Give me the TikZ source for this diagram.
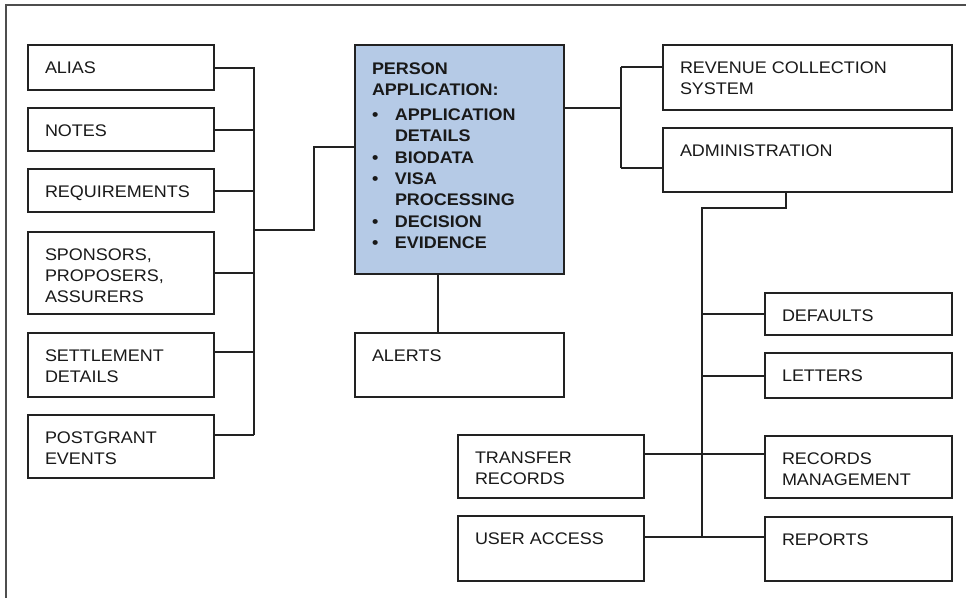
\documentclass[tikz,border=0pt]{standalone}
\usepackage{fontspec}
\setmainfont{Liberation Sans}[FakeStretch=1.07]
\definecolor{inkline}{RGB}{34,34,34}
\definecolor{appblue}{RGB}{181,202,230}
\newcommand\bitem{\makebox[23pt][l]{\textbullet}}
\newcommand\bcont{\hspace*{23pt}}
\tikzset{
  boxshape/.style={draw=inkline, line width=2pt, rectangle, inner sep=0pt, fill=white},
  boxtext/.style={inner sep=0pt, outer sep=0pt, align=left, text=black!90,
    font=\fontsize{16.8}{21}\selectfont},
  boldtext/.style={boxtext, font=\fontsize{16.8}{21}\selectfont\bfseries},
  wire/.style={draw=inkline, line width=2pt},
}
% name, left x, top y, width, height, text
\newcommand\mybox[6]{%
  \node[boxshape, minimum width=#4pt, minimum height=#5pt, anchor=north west] (#1) at (#2,#3) {};
  \node[boxtext, anchor=north west] (#1-t) at ([xshift=18pt,yshift=-18pt]#1.north west) {#6};}
\begin{document}
\begin{tikzpicture}[x=1pt, y=-1pt]
\useasboundingbox (0,0) rectangle (966,598);
% frame edges
\draw[draw=inkline!80, line width=2pt] (966,5) -- (6,5) -- (6,598);

% left column
\mybox{alias}{27}{44}{186}{45}{ALIAS}
\mybox{notes}{27}{107}{186}{43}{NOTES}
\mybox{req}{27}{168}{186}{43}{REQUIREMENTS}
\mybox{spons}{27}{231}{186}{82}{SPONSORS,\\PROPOSERS,\\ASSURERS}
\mybox{settle}{27}{332}{186}{64}{SETTLEMENT\\DETAILS}
\mybox{postg}{27}{414}{186}{63}{POSTGRANT\\EVENTS}

% central application box
\node[boxshape, fill=appblue, minimum width=209pt, minimum height=229pt, anchor=north west] (person) at (354,44) {};
\node[boldtext, anchor=north west] (person-t) at ([xshift=18pt,yshift=-18.5pt]person.north west)
  {PERSON\\APPLICATION:\\[4pt]\bitem APPLICATION\\\bcont DETAILS\\[1pt]\bitem BIODATA\\\bitem VISA\\\bcont PROCESSING\\[1pt]\bitem DECISION\\\bitem EVIDENCE};
\mybox{alerts}{354}{332}{209}{64}{ALERTS}

% right side
\mybox{revenue}{662}{44}{289}{65}{REVENUE COLLECTION\\SYSTEM}
\mybox{admin}{662}{127}{289}{64}{ADMINISTRATION}
\mybox{defaults}{764}{292}{187}{42}{DEFAULTS}
\mybox{letters}{764}{352}{187}{45}{LETTERS}
\mybox{records}{764}{435}{187}{62}{RECORDS\\MANAGEMENT}
\mybox{reports}{764}{516}{187}{64}{REPORTS}
\mybox{transfer}{457}{434}{186}{63}{TRANSFER\\RECORDS}
\mybox{user}{457}{515}{186}{65}{USER ACCESS}

% left bus
\coordinate (ltop) at (254,67);
\coordinate (lbot) at (254,435);
\coordinate (ljoin) at (254,230);
\coordinate (settle-p) at ([yshift=-20pt]settle.north east);
\coordinate (postg-p) at ([yshift=-21pt]postg.north east);
\coordinate (person-in) at ([yshift=-103pt]person.north west);
\draw[wire] (ltop) -- (lbot);
\draw[wire] (alias.east) -- (alias.east -| ltop);
\draw[wire] (notes.east) -- (notes.east -| ltop);
\draw[wire] (req.east) -- (req.east -| ltop);
\draw[wire] (spons.east) -- (spons.east -| ltop);
\draw[wire] (settle-p) -- (settle-p -| ltop);
\draw[wire] (postg-p) -- (postg-p -| ltop);
\draw[wire] (ljoin) -- ++(60,0) |- (person-in);

% application to the right-hand boxes
\coordinate (person-out) at ([yshift=-64pt]person.north east);
\coordinate (rt1) at (621,67);
\coordinate (rt2) at (621,168);
\draw[wire] (rt1) -- (rt2);
\draw[wire] (person-out) -- (person-out -| rt1);
\draw[wire] (rt1) -- (rt1 -| revenue.west);
\draw[wire] (rt2) -- (rt2 -| admin.west);

% alerts
\coordinate (alerts-in) at ([xshift=-21.5pt]alerts.north);
\draw[wire] (alerts-in |- person.south) -- (alerts-in);

% administration tree
\coordinate (admin-out) at ([xshift=-21.5pt]admin.south);
\coordinate (btop) at (702,208);
\coordinate (transfer-p) at ([yshift=-20pt]transfer.north east);
\coordinate (records-p) at (records.west |- transfer-p);
\coordinate (user-p) at ([yshift=-22pt]user.north east);
\coordinate (reports-p) at (reports.west |- user-p);
\draw[wire] (admin-out) |- (btop) -- (btop |- user-p);
\draw[wire] (defaults.west) -- (defaults.west -| btop);
\draw[wire] (letters.west) -- (letters.west -| btop);
\draw[wire] (transfer-p) -- (records-p);
\draw[wire] (user-p) -- (reports-p);
\end{tikzpicture}
\end{document}
